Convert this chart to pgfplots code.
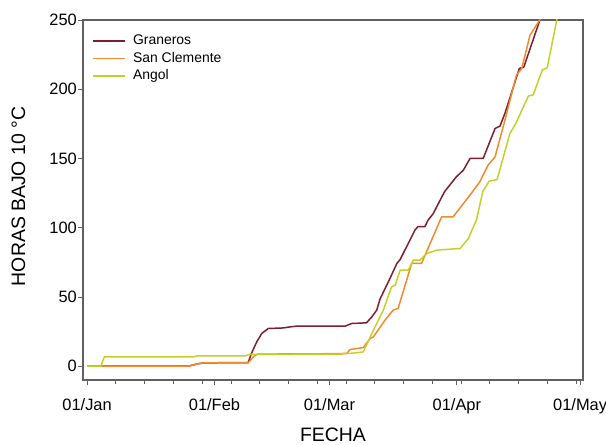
\documentclass[border=0pt]{standalone}
\usepackage{fontspec}
\setmainfont{Liberation Sans}
\usepackage{pgfplots}
\pgfplotsset{compat=1.18}

\definecolor{graneros}{HTML}{7B1E2E}
\definecolor{sanclem}{HTML}{F2892B}
\definecolor{angol}{HTML}{C2D12A}
\definecolor{framegray}{HTML}{606060}

\begin{document}
\begin{tikzpicture}
\begin{axis}[
    scale only axis,
    width=500bp, height=360bp,
    xmin=-1, xmax=120.7,
    ymin=-10, ymax=250,
    axis line style={draw=framegray, line width=1.1pt},
    tick pos=left,
    tick align=outside,
    major tick length=5bp,
    minor tick length=4bp,
    tick style={draw=framegray, line width=0.8pt},
    xtick={0,31,59,90,120},
    xticklabels={01/Jan,01/Feb,01/Mar,01/Apr,01/May},
    minor xtick={0,7,...,119},
    ytick={0,50,...,250},
    /pgf/number format/assume math mode=true,
    ticklabel style={font=\fontsize{16.5}{19}\selectfont},
    yticklabel style={inner sep=1bp},
    xticklabel style={inner sep=0pt, yshift=-13bp},
    xlabel={FECHA},
    ylabel={HORAS BAJO 10 °C},
    label style={font=\fontsize{19.5}{23}\selectfont},
    xlabel style={at={(axis description cs:0.5,-0.172)}, anchor=base},
    ylabel style={at={(axis description cs:-0.116,0.51)}, anchor=base, rotate=0},
    legend style={at={(axis description cs:0.018,0.965)}, anchor=north west,
        draw=none, fill=none, font=\fontsize{14}{17}\selectfont,
        inner sep=0pt, row sep=0pt,
        nodes={text height=10bp, text depth=3bp, inner sep=2.2bp}},
    legend cell align=left,
    legend image code/.code={
        \draw[#1, line width=1.8pt] (0bp,0.3bp) -- (32bp,0.3bp);
        \path (37bp,0bp);},
]

% Graneros
\addplot[draw=graneros, line width=1.5pt, line join=round] coordinates {
    (0,0) (24.6,0) (26,1.0) (27,1.8) (28.7,2.4) (39.2,2.6) (40,9.2) (41.3,17.6)
    (42.5,23.6) (44.1,27.2) (47.8,27.6) (49,28.2) (51,28.9) (62.8,28.9) (64.4,30.8)
    (68,31.3) (69.3,35.6) (70.5,40.5) (71.3,48.5) (73.5,62) (75.4,74.2) (76.2,77)
    (79.8,98.3) (80.5,100.7) (82.2,100.7) (83,105.5) (84.2,110) (87,126) (89.8,136.5)
    (91.6,141.6) (93.2,150) (96.4,150) (99.3,171.7) (100.5,173.4) (101.7,182.6)
    (105.2,215) (106.3,216) (110.2,250) (110.6,256)
};
\addlegendentry{Graneros}

% San Clemente
\addplot[draw=sanclem, line width=1.5pt, line join=round] coordinates {
    (0,0) (24.6,0) (26,1.0) (27,1.8) (28.7,2.4) (39.2,2.4) (40.6,7.2) (41.5,8.7)
    (60,9) (63.2,9.2) (64,12) (67.2,13.4) (68.9,19.9) (69.7,21.2) (72.5,33.2)
    (74.5,40.5) (75.7,41.7) (79,74.2) (81.4,74.2) (83.5,88.7) (86.3,107.9)
    (89.1,107.9) (93.2,123.6) (95.6,133.2) (97.6,145.2) (99.3,151.2) (101.7,177.7)
    (104.5,210.3) (105.8,215) (107.8,239) (110.6,252) (111,258)
};
\addlegendentry{San Clemente}

% Angol
\addplot[draw=angol, line width=1.5pt, line join=round] coordinates {
    (0,0) (3.3,0) (4.2,6.7) (26,6.7) (26.8,7.4) (38.5,7.4) (39.5,8.5) (61.6,8.7)
    (65,9.5) (67.2,10.3) (69.7,26) (72.1,40.5) (74.1,57.3) (75,58.5) (76.2,69.4)
    (78.2,69.4) (79.4,76.6) (81,76.6) (82.7,81.4) (85.1,83.8) (90.8,85) (92.8,92.2)
    (94.8,106) (96.3,126) (97.8,133.5) (99.8,134.8) (102.9,168) (104.3,175)
    (107.4,195) (108.6,196) (110.8,214) (112,215.5) (114.3,250) (114.7,256)
};
\addlegendentry{Angol}

\end{axis}
\pgfresetboundingbox
\path[use as bounding box] (-83bp,-65bp) rectangle (523bp,380bp);
\end{tikzpicture}
\end{document}
